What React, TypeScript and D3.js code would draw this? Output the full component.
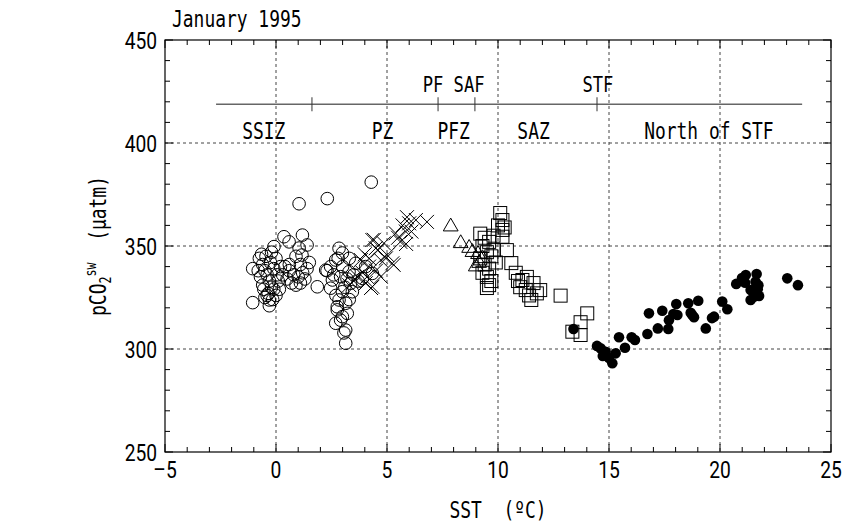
import React from "react";
import * as d3 from "d3";

// SST (°C), pCO2 (µatm)
const ssizCircles: [number, number][] = [
  [-1.05, 322.5], [-1.05, 339], [-0.75, 344], [-0.6, 341], [-0.5, 338], [-0.4, 336],
  [-0.3, 333], [-0.2, 330], [-0.35, 327], [-0.5, 325], [-0.15, 324], [0.0, 326],
  [-0.1, 329], [-0.6, 331], [-0.7, 335], [-0.25, 342], [-0.1, 339], [0.05, 336],
  [0.1, 333], [-0.45, 345], [-0.8, 338], [-0.55, 329], [-0.3, 321], [0.15, 329],
  [0.2, 340], [0.0, 344], [-0.2, 347], [-0.09, 349.7], [0.36, 354.5], [0.59, 352],
  [1.19, 355.3], [1.4, 350.5], [1.04, 349], [1.17, 345.6], [0.9, 345], [0.4, 340],
  [0.6, 338], [0.8, 336], [1.0, 335], [1.2, 337], [1.4, 339], [0.5, 334], [0.7, 332],
  [0.9, 331], [1.1, 332], [1.3, 334], [0.6, 341], [1.1, 341], [1.5, 342], [0.3, 336],
  [-0.4, 326], [-0.3, 323.8], [-0.65, 346], [1.04, 370.5], [2.31, 373], [4.29, 381],
];

const pzCircles: [number, number][] = [
  [2.84, 348.9], [2.99, 346.6], [2.24, 338.3], [1.86, 330.2], [2.46, 329.5], [2.84, 323.8],
  [2.99, 315.7], [3.14, 309.2], [3.14, 302.8], [3.06, 307.8], [2.69, 312.5], [3.21, 317.3],
  [2.54, 333.5], [3.29, 337.5], [3.59, 341.6], [4.04, 340], [4.34, 336.7], [3.89, 334.3],
  [3.36, 331.9], [2.91, 335.1], [2.69, 343.2], [2.46, 340], [2.99, 327.8], [3.14, 322.2],
  [2.76, 320.5], [3.44, 327.8], [2.3, 338], [2.76, 319], [2.91, 314], [3.1, 330],
  [3.2, 334], [3.5, 336], [3.7, 333], [3.0, 340], [2.8, 344], [3.3, 344], [2.6, 336],
  [2.7, 326], [3.3, 324],
];

const pzCrosses: [number, number][] = [
  [4.34, 352.9], [4.49, 348.9], [4.72, 343.2], [4.19, 340], [4.34, 330.2], [3.82, 343.2],
  [5.24, 341.6], [5.01, 345.6], [5.39, 356.2], [4.86, 351.3], [4.04, 331.9], [3.66, 335.1],
  [4.72, 335.1], [4.28, 329.6], [4.95, 344], [5.5, 354], [5.85, 357], [6.1, 357],
  [5.9, 364], [6.3, 362.6], [6.8, 361.7], [5.86, 351], [5.3, 340.8], [4.6, 348],
  [4.41, 353], [3.9, 337], [4.1, 335], [4.5, 338], [3.5, 333], [4.2, 344], [5.7, 360],
  [6.0, 361], [5.6, 352], [3.3, 331], [4.0, 346],
];

const pfzTriangles: [number, number][] = [
  [7.87, 359.4], [8.32, 351.3], [8.7, 349], [8.85, 347], [9.15, 341.7], [9.0, 340],
  [9.3, 344], [9.1, 346],
];

const sazSquares: [number, number][] = [
  [10.1, 366], [10.2, 362.6], [10.2, 357.8], [10.2, 354.5], [10.0, 360], [10.3, 359],
  [9.2, 356], [9.4, 354], [9.6, 352], [9.3, 350], [9.5, 347], [9.7, 345], [9.2, 344],
  [9.4, 341], [9.6, 339], [9.3, 337], [9.5, 335], [9.7, 333], [9.5, 329.6], [9.6, 331],
  [9.8, 348], [9.8, 355], [9.9, 342], [10.4, 348], [10.6, 341.7], [10.8, 337],
  [11.1, 333.5], [11.25, 328.6], [11.5, 323.8], [11.75, 327], [11.9, 328.6], [11.0, 330],
  [11.3, 335], [11.6, 332], [10.9, 333], [11.4, 326], [12.82, 325.9], [14.02, 317.3],
  [13.72, 313], [13.35, 308.4], [13.72, 306.8],
];

const stfDots: [number, number][] = [
  [13.4, 309.7], [14.63, 300.3], [14.85, 298.7], [15.15, 293.1], [15.3, 297.9], [15.45, 305.7],
  [15.72, 300.6], [16.02, 305.7], [16.17, 304.4], [16.73, 307.3], [17.2, 310], [16.8, 317.3],
  [17.4, 318.6], [17.7, 314], [17.67, 309.7], [18.08, 316.5], [18.03, 321.8], [18.57, 322.2],
  [18.68, 317.6], [18.83, 315.4], [19.02, 323.4], [19.36, 310], [19.73, 315.7], [20.1, 323],
  [20.33, 319.3], [20.73, 331.6], [21.16, 335.9], [21.13, 332.2], [21.65, 336.4], [21.73, 331],
  [21.38, 328.6], [21.53, 325.4], [21.38, 323.8], [21.76, 325.7], [23.03, 334.3], [23.51, 331],
  [14.46, 301.5], [14.72, 296.6], [15.0, 295.6], [20.99, 334.5], [21.6, 332.7], [19.64, 315],
  [18.75, 316.5], [17.9, 317], [21.7, 329],
];

const xTicks = [-5, 0, 5, 10, 15, 20, 25];
const yTicks = [250, 300, 350, 400, 450];
const frontLine = { from: -2.7, to: 23.7, level: 418.8 };
const frontTicks = [1.62, 7.3, 8.96, 14.46];
const frontNames = [
  { text: "PF SAF", sst: 8.0 },
  { text: "STF", sst: 14.5 },
];
const zoneNames = [
  { text: "SSIZ", sst: -0.55 },
  { text: "PZ", sst: 4.8 },
  { text: "PFZ", sst: 8.0 },
  { text: "SAZ", sst: 11.6 },
  { text: "North of STF", sst: 19.5 },
];

const W = 851;
const H = 526;
const FONT = "'DejaVu Sans Mono', 'Liberation Mono', monospace";
const NUM_FONT = "Roboto, 'Liberation Sans', sans-serif";
const SX = 0.78;

// narrow, tall lettering like the original gothic font
function T(props: { x: number; y: number; size: number; anchor?: string; font?: string; sx?: number; children: React.ReactNode }) {
  return (
    <text
      transform={`translate(${props.x},${props.y}) scale(${props.sx || SX},1)`}
      textAnchor={props.anchor || "start"}
      fontSize={props.size}
      fontFamily={props.font || FONT}
      style={{ whiteSpace: "pre" }}
    >
      {props.children}
    </text>
  );
}

export default function App() {
  const x = d3.scaleLinear().domain([-5, 25]).range([165, 831]);
  const y = d3.scaleLinear().domain([250, 450]).range([452, 40]);
  const [x0, x1] = x.range();
  const [y0, y1] = y.range();

  const xMinor = d3.range(-5, 26, 1);
  const yMinor = d3.range(250, 451, 10);

  const cr = 6.3;
  const fmt = (v: number) => (v < 0 ? "\u2013" + Math.abs(v) : String(v));

  const trianglePath = d3.symbol().type(d3.symbolTriangle).size(95)();
  const fy = y(frontLine.level);

  return (
    <svg
      width={W}
      height={H}
      style={{ position: "absolute", left: 0, top: 0, background: "#fff" }}
      fontFamily={FONT}
    >
      <rect width={W} height={H} fill="#fff" />

      {/* grid */}
      {xTicks.slice(1, -1).map((t) => (
        <line key={"gx" + t} x1={x(t)} x2={x(t)} y1={y1} y2={y0} stroke="#444" strokeDasharray="3,3" strokeWidth={1} />
      ))}
      {yTicks.slice(1, -1).map((t) => (
        <line key={"gy" + t} x1={x0} x2={x1} y1={y(t)} y2={y(t)} stroke="#444" strokeDasharray="3,3" strokeWidth={1} />
      ))}

      {/* minor and major ticks, inside, all four sides */}
      {xMinor.map((t) => {
        const len = t % 5 === 0 ? 8 : 5;
        return (
          <g key={"tx" + t} stroke="#000" strokeWidth={1}>
            <line x1={x(t)} x2={x(t)} y1={y0} y2={y0 - len} />
            <line x1={x(t)} x2={x(t)} y1={y1} y2={y1 + len} />
          </g>
        );
      })}
      {yMinor.map((t) => {
        const len = t % 50 === 0 ? 8 : 5;
        return (
          <g key={"ty" + t} stroke="#000" strokeWidth={1}>
            <line x1={x0} x2={x0 + len} y1={y(t)} y2={y(t)} />
            <line x1={x1} x2={x1 - len} y1={y(t)} y2={y(t)} />
          </g>
        );
      })}

      <rect x={x0} y={y1} width={x1 - x0} height={y0 - y1} fill="none" stroke="#000" strokeWidth={1.2} />

      {/* tick labels */}
      {xTicks.map((t) => (
        <T key={"lx" + t} x={x(t)} y={y0 + 26} size={24} anchor="middle" font={NUM_FONT} sx={0.8}>
          {fmt(t)}
        </T>
      ))}
      {yTicks.map((t) => (
        <T key={"ly" + t} x={x0 - 8} y={y(t) + 9} size={24} anchor="end" font={NUM_FONT} sx={0.8}>
          {String(t)}
        </T>
      ))}

      {/* fronts */}
      <line x1={x(frontLine.from)} x2={x(frontLine.to)} y1={fy} y2={fy} stroke="#666" strokeWidth={1.5} />
      {frontTicks.map((t) => (
        <line key={"ft" + t} x1={x(t)} x2={x(t)} y1={fy - 7} y2={fy + 7} stroke="#333" strokeWidth={1} />
      ))}
      {frontNames.map((f) => (
        <T key={f.text} x={x(f.sst)} y={fy - 12} size={22} anchor="middle">
          {f.text}
        </T>
      ))}
      {zoneNames.map((z) => (
        <T key={z.text} x={x(z.sst)} y={fy + 35} size={23} anchor="middle">
          {z.text}
        </T>
      ))}

      {/* data */}
      {[...ssizCircles, ...pzCircles].map((d, i) => (
        <circle key={"c" + i} cx={x(d[0])} cy={y(d[1])} r={cr} fill="none" stroke="#000" strokeWidth={1} />
      ))}
      {pzCrosses.map((d, i) => (
        <path
          key={"x" + i}
          d={`M${x(d[0]) - 7},${y(d[1]) - 7}L${x(d[0]) + 7},${y(d[1]) + 7}M${x(d[0]) - 7},${y(d[1]) + 7}L${x(d[0]) + 7},${y(d[1]) - 7}`}
          stroke="#000"
          strokeWidth={1}
          fill="none"
        />
      ))}
      {pfzTriangles.map((d, i) => (
        <path key={"t" + i} d={trianglePath || ""} transform={`translate(${x(d[0])},${y(d[1])})`} fill="none" stroke="#000" strokeWidth={1} />
      ))}
      {sazSquares.map((d, i) => (
        <rect key={"s" + i} x={x(d[0]) - 6.5} y={y(d[1]) - 6.5} width={13} height={13} fill="none" stroke="#000" strokeWidth={1} />
      ))}
      {stfDots.map((d, i) => (
        <circle key={"d" + i} cx={x(d[0])} cy={y(d[1])} r={5.3} fill="#000" />
      ))}

      {/* titles */}
      <T x={172} y={27} size={23}>
        January 1995
      </T>
      <T x={(x0 + x1) / 2} y={518} size={23} anchor="middle">
        {"SST  (\u00baC)"}
      </T>
      <text
        transform={`translate(106,${(y0 + y1) / 2}) rotate(-90) scale(${SX},1)`}
        textAnchor="middle"
        fontSize={23}
        style={{ whiteSpace: "pre" }}
      >
        pCO
        <tspan fontSize={15} dy={5}>2</tspan>
        <tspan fontSize={15} dy={-15}>sw</tspan>
        <tspan dy={10}>{"  (\u03bcatm)"}</tspan>
      </text>
    </svg>
  );
}
